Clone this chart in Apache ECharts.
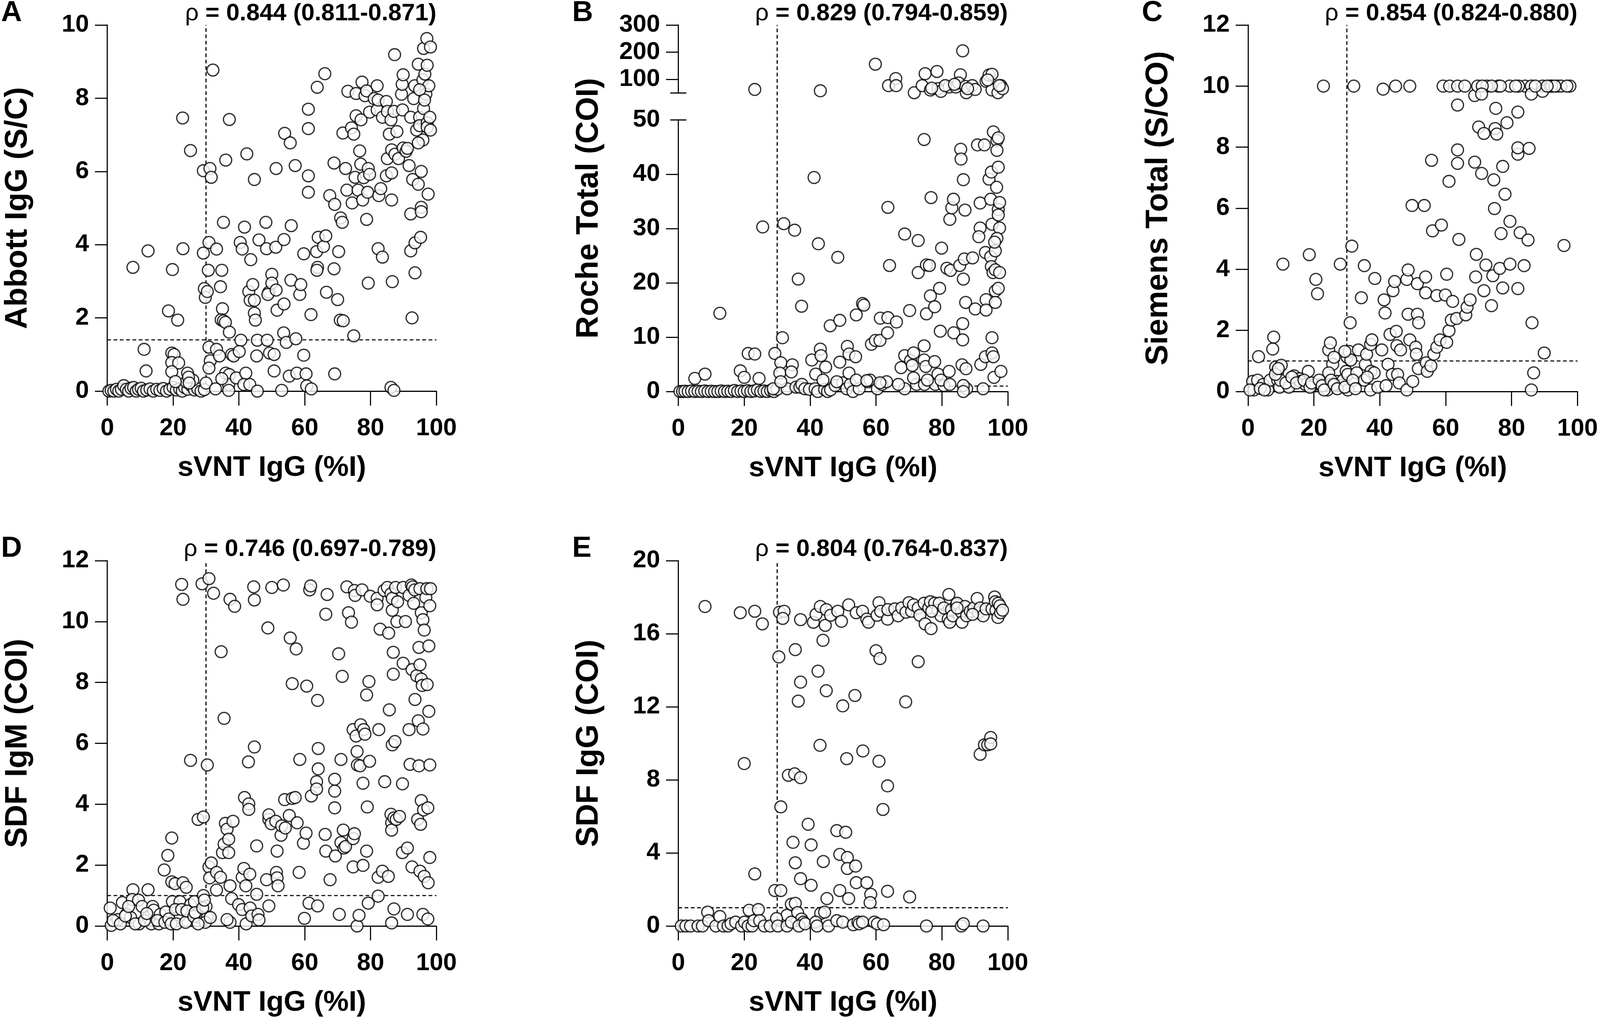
<!DOCTYPE html>
<html>
<head>
<meta charset="utf-8">
<script src="https://cdn.jsdelivr.net/npm/echarts@6/dist/echarts.min.js"></script>
<style>
  html, body { margin: 0; padding: 0; background: #fff; overflow: hidden; }
  #main { width: 4550px; height: 2626px; }
</style>
</head>
<body>
<div id="main"></div>
<script>
// ---- text ----
const xTitle = 'sVNT IgG (%I)';
const panelLetters = ['A', 'B', 'C', 'D', 'E'];
const yTitles = ['Abbott IgG (S/C)', 'Roche Total (COI)', 'Siemens Total (S/CO)', 'SDF IgM (COI)', 'SDF IgG (COI)'];
const rhoTexts = ['0.844 (0.811-0.871)', '0.829 (0.794-0.859)', '0.854 (0.824-0.880)', '0.746 (0.697-0.789)', '0.804 (0.764-0.837)'];

// ---- cut-offs (dashed lines) ----
const svntCutoff = 30;
const assayCutoffs = [1.4, 1, 1, 1, 1];

// ---- A: Abbott IgG (S/C) vs sVNT ----
const abbottPts = [
  [0.5,0],[1.2,0.02],[2,0],[2.8,0.05],[3.5,0],[4.3,0.05],[5,0.15],[5.8,0.05],[6.5,0],[7.2,0.08],[8,0.1],[8.8,0],
  [9.5,0.05],[10.3,0.08],[11,0],[12,0.03],[13,0.06],[14,0],[15,0.05],[16,0.02],[17,0.07],[18,0],[19,0.05],[20,0.1],
  [21,0.03],[22,0.06],[22.8,0],[23.5,0.1],[24.5,0.05],[25.5,0.15],[26.5,0.03],[27.5,0.06],[28.5,0],[29.5,0.04],[26,0.3],[24,0.25],
  [7.8,3.38],[12.4,3.83],[11.2,1.14],[11.8,0.55],[22.9,7.46],[25.3,6.57],[19.8,3.32],[18.6,2.19],[21.4,1.94],[23,3.89],
  [19.6,1.04],[20.3,1.0],[19.6,0.78],[21.7,0.77],[19.6,0.53],[20.7,0.26],[24.4,0.49],[24.7,0.38],[24.9,0.22],
  [29.2,6.02],[31.2,6.08],[31.6,5.84],[32.1,8.77],[29.2,3.77],[30.9,4.06],[33.2,3.88],[30.7,3.3],[29.5,2.8],[29.8,2.56],
  [30.4,2.72],[30.9,1.2],[31.3,0.83],[30.9,0.63],[30,0.22],[32.9,0.06],[33.2,1.14],[34.1,0.96],[34.8,3.3],[34.4,2.85],
  [35.3,4.61],[36,6.31],[37.1,7.42],[35,2.25],[34.6,1.95],[35.3,1.92],[35.9,1.88],[37.1,1.61],[37.8,1.0],[38.4,0.96],
  [36,0.49],[37.1,0.45],[36.9,0.18],[36.9,0.02],[39.2,0.36],[34.8,0.34],[40.6,1.39],[40.1,1.08],[40.4,4.06],[41,3.88],[41.7,4.48],
  [42.4,6.48],[43.6,3.59],[43,2.72],[43.4,2.48],[44.2,2.91],[44.7,2.48],[44.7,2.13],[45,1.94],[44.7,5.78],[42.1,0.49],
  [41.5,0.18],[43.3,0.18],[45.6,0],[45.4,0.96],[45.6,1.39],[46.1,4.13],[48.2,4.61],[48.4,3.89],[48.6,1.39],[49.1,2.7],
  [48.8,2.64],[49.3,1.04],[50,3.19],[50,2.95],[50.7,1.0],[51.3,6.08],[51.2,3.93],[51.3,2.76],[51.6,2.21],[50.7,0.55],
  [53,0.02],[53.7,2.38],[53.7,4.14],[53.9,7.04],[53.6,1.59],[54.4,1.33],[55.3,0.41],[55.6,6.78],[55.9,4.52],[55.8,3.03],
  [57.1,6.16],[57.3,1.43],[57.6,0.49],[58.5,2.64],[58.8,2.91],[59.7,3.75],[59.7,0.98],[60.4,0.47],[60.6,0.14],[61.1,7.7],
  [61.1,7.17],[61.1,5.88],[61.1,5.43],[61.9,2.09],[62,0.06],[63.8,8.3],[63.6,3.81],[63.9,3.38],[63.7,3.3],[64.1,4.2],
  [65.7,3.95],[66.4,4.24],[66.1,8.67],[66.6,2.7],[67.6,5.34],[68.9,3.34],[68.9,6.23],[69.1,5.1],[69.1,0.47],[70,2.5],
  [70.3,3.81],[70.9,4.73],[71.4,4.61],[70.8,1.94],[71.7,1.92],[71.6,7.05],[72.4,6.08],[72.8,5.49],[73.1,8.19],[74.2,7.19],
  [74.9,7.02],[74.9,1.51],[74.4,5.14],[75.3,5.84],[75.6,8.13],[75.6,7.52],[76.2,5.49],[76.7,6.56],[77,6.2],[77.1,7.41],
  [77.4,8.44],[77.6,5.22],[77.9,5.83],[78.3,8.07],[78.8,8.2],[78.8,4.69],[79.1,5.43],[79.3,2.95],[79.3,6.08],[79.7,5.92],
  [79.7,7.62],[81.1,7.99],[82,8.34],[82,7.68],[82.3,7.95],[82.3,3.89],[82.5,5.34],[83.1,5.53],[83.6,3.66],[83.6,7.48],
  [84.8,7.91],[85.1,7.64],[84.8,5.88],[85.1,6.35],[85.7,7.02],[86.2,7.41],[86.4,6.59],[86.4,5.96],[86.4,5.22],[86.6,2.99],
  [86.2,0.1],[87.1,0.02],[87.3,9.19],[87.4,6.47],[88,7.09],[88.5,6.35],[87.1,7.64],[89.4,8.11],[89.6,8.38],[89.9,8.64],
  [89.7,7.68],[89.9,6.64],[90.8,6.55],[91.2,6.63],[91.7,6.16],[92.2,7.48],[92.2,4.84],[92.2,3.83],[92.6,2.0],[92.8,5.78],
  [93.1,7.99],[93.4,8.34],[93.5,4.05],[94,7.13],[94.5,5.65],[94.5,8.93],[94.9,7.48],[94.9,7.25],[95.2,4.2],[95.4,5.02],
  [95.4,4.9],[95.4,6.0],[95.9,6.86],[95.9,8.5],[96.1,7.72],[96.1,9.36],[93.5,3.23],[96.5,8.66],[96.8,8.11],[97.1,9.63],
  [97.2,8.9],[97.2,7.33],[97.2,7.21],[97.7,8.34],[98,7.48],[97.5,5.38],[98.2,9.4],[98.2,7.13],[94.9,8.23],[94.5,6.78],[96.4,7.95]
];

// ---- B: Roche Total (COI) vs sVNT (broken axis: 0-50 and 50-300) ----
const rochePts = [
  [0.5,0],[1.3,0],[2,0.05],[3,0],[4,0.1],[5,0],[6,0.05],[7,0],[8,0.1],[9,0],[10,0.05],[11,0],[12,0],[13,0.1],[14,0],
  [15,0.05],[16,0],[17,0.2],[18,0],[19,0.1],[20,0],[21,0.15],[22,0],[23,0.1],[24,0.3],[25,0],[26,0.1],[27,0],[28,0.2],
  [29,0],[30,0.4],[28.8,0.5],[33,0.5],[35.7,0.8],[36.9,0.8],[37.5,1.3],[38.4,0.5],[39.8,0.4],[41.5,0.5],[42.3,0],[44.4,0.4],
  [45.3,0],[46.2,0.3],[47.6,1.1],[49.9,1.6],[51.1,0.5],[52.2,1.3],[53,0],[54.9,0.5],[57.5,1.8],[58.2,2.1],[60.4,0.5],
  [61.8,1.3],[63.2,1.8],[68.7,0.5],[72.3,1.3],[74.7,1.3],[78,1.3],[80.6,1.1],[87.5,0.5],
  [12.6,14.4],[5,2.4],[8.1,3.2],[18.8,3.8],[20,2.6],[21.2,7],[23.2,6.9],[24.5,2.4],[25.6,30.3],[29.3,7],[31.6,9.9],
  [32,30.9],[35.3,29.7],[36.4,20.7],[37.4,15.7],[31.1,5.3],[30.8,3.4],[34.6,4.9],[34.3,3.6],[31.1,1.8],[41.2,39.4],
  [42.5,27.2],[40.5,5.8],[43.1,7.8],[43.3,6.6],[44.7,4.5],[41.7,3.2],[43.9,2.1],[46.1,12.1],[48.4,24.7],[49,13.1],[49,5.4],
  [48.1,1.8],[51.3,8.3],[51.8,6.9],[53.8,6.4],[54,14.1],[55.9,16.2],[56.3,15.9],[51.8,3.4],[54,2.1],[57.2,2],[58.6,8.7],
  [59.8,9.4],[61.2,9.4],[61.3,13.5],[63.6,13.6],[63.5,10.8],[63.6,33.9],[64.1,23.2],[66.2,12.8],[61.2,1.6],[66.8,1.3],
  [68.7,29],[72.8,27.8],[70.2,14.9],[67.6,4.4],[68.7,6.6],[70.5,5.7],[71,4.8],[71.4,7.1],[71.4,2.5],[72.8,21.9],[74.6,46.4],
  [74.6,8.4],[75.3,23.3],[76.2,23.2],[75.3,14.3],[76.5,17.6],[77.8,15.6],[76.7,35.7],[79.3,19],[79.9,26.4],[79.5,11.1],
  [74.6,5.8],[75.1,4.6],[75.6,2.1],[77.8,5.5],[78.8,3.2],[79.7,2.1],[81.5,22.7],[82.6,22.3],[82.4,31.7],[83,33.8],[83.5,35.4],
  [83.6,10.8],[82.2,3.7],[82.4,1.3],[85.7,44.6],[85.8,42.8],[86.5,39],[87,33.4],[85.4,23.2],[86.8,24.4],[86.5,20.7],
  [87.2,16.4],[86.3,12.5],[86.3,9.5],[86.1,4.9],[87.3,4.2],[86.5,1.1],[86.5,0],[89.3,24.6],[90.1,15.2],[90.8,45.4],
  [91.6,34.7],[91.6,30.1],[91.2,28.5],[91.8,5],[92.5,0.5],[92.9,45.4],[93.2,25.6],[93.4,16.9],[93.4,15],[93.2,6.4],
  [94.3,39.1],[95,40.4],[94.8,35.4],[95.2,30.8],[94.8,24.8],[95,23],[95.5,21.9],[95.2,7.1],[95.6,6.4],[95.2,9.9],
  [96.2,18.5],[96.2,16.4],[95.6,47.8],[96.7,46.2],[97.1,46.7],[96.7,44.4],[97.1,41.3],[96.6,37.6],[97.1,33.5],[97.5,34.8],
  [97.1,32.5],[97.5,30.1],[96.7,28.2],[96.2,25.9],[96.2,22.4],[97.5,21.9],[95.8,2.6],[97.9,3.7],[97.1,19],[96,27.5],
  [23.2,63],[43.1,58],[59.8,156],[63.8,77],[66,103],[66.1,77],[71.6,51],[74,77],[74.9,121],[76.5,61],[78.5,129],[78.8,66],
  [79.7,56],[82.2,72],[84.2,72],[85.6,117],[85.1,87],[86.3,205],[87.4,51],[87.2,74],[89.2,77],[90.1,63],[93.4,93],
  [94.3,116],[95.2,119],[95.2,61],[97,51],[97.9,77],[98.4,66],[76.9,68],[81,77],[83.8,82],[87.8,66],[97.4,77],[93.9,98]
];
const rocheBreak = 50;

// ---- C: Siemens Total (S/CO) vs sVNT ----
const siemensPts = [
  [3.2,1.14],[1.4,0.33],[1.8,0.05],[0.6,0.05],[2.9,0.37],[4.6,0.23],[6,0.05],[6.7,0.37],[7.8,1.78],[7.5,1.39],[8.4,0.8],
  [9,0.66],[10.1,0.86],[9,0.37],[9.6,0.14],[10.6,4.17],[9.8,0.37],[12.4,0.14],[14,0.51],[15.6,0.42],[15.9,0.33],[17.4,0.23],
  [18.3,0.66],[18.6,4.48],[20.6,3.67],[21.1,3.2],[20.2,0.23],[22,0.23],[22.9,10],[24.1,0.05],[23.4,0.19],[24.5,1.36],
  [25,1.59],[25.7,0.89],[26.1,1.12],[24.5,0.61],[27.1,0.33],[28,4.17],[28.2,0.19],[28.9,0.37],[29.8,0.66],[30.1,1.12],
  [30.3,0.05],[30.7,1.31],[31,2.25],[31.5,4.76],[32.1,10],[31.2,1.03],[30.3,0.56],[33,0.61],[33.5,1.36],[34.4,3.07],
  [35.3,4.12],[35.3,0.37],[35.6,0.89],[36,1.22],[37.2,1.54],[37.3,0.66],[37.2,0.05],[37.6,1.69],[38.3,0.61],[38.5,3.7],
  [39.4,0.14],[40.6,1.36],[41,9.9],[41.3,3.0],[41.6,2.57],[41.9,0.19],[42.5,0.89],[43.1,1.87],[43.8,0.56],[44,3.3],
  [44.5,3.6],[44.8,10],[45,1.97],[45.2,1.5],[45.4,0.56],[45.9,0.28],[46.3,1.36],[48.2,0.05],[48.2,3.67],[48.6,3.98],
  [49.1,1.69],[48.6,2.53],[49.1,10],[49.8,6.09],[50,0.33],[50.9,1.45],[51.1,1.22],[51.4,2.53],[51.8,2.25],[51.4,3.53],
  [51.7,0.75],[53.5,6.09],[53.9,3.75],[53.9,3.23],[54.1,0.94],[54.4,0.66],[55.5,0.84],[55.7,7.57],[56,5.26],[56.4,1.22],
  [57.3,1.45],[57.3,3.14],[58.3,1.69],[58.7,5.45],[59.2,10],[59.9,3.16],[60.3,1.61],[60.3,3.84],[61,1.99],[61,6.88],
  [61.2,10],[61.7,2.34],[62.1,2.95],[63.3,2.39],[63.6,10],[63.6,7.91],[63.6,7.47],[63.6,9.38],[64,4.98],[65.8,10],
  [66.1,2.51],[66.5,2.76],[67.4,3.0],[68.8,7.51],[68.8,9.69],[69.1,3.75],[69.3,4.49],[69.7,10],[70,8.66],[70.9,7.14],
  [71.6,8.45],[71.6,3.3],[72.2,4.14],[72.5,10],[73.9,2.81],[74.3,3.79],[74.6,6.93],[74.8,5.99],[75,8.61],[75.2,9.27],
  [75.5,8.43],[75.9,10],[76.4,4.03],[76.8,5.17],[77.3,3.39],[77.3,7.37],[78,6.46],[78.6,8.8],[79.4,10],[79.5,5.57],
  [79.5,4.17],[81.9,9.15],[81.9,7.77],[81.9,7.98],[81.9,3.37],[82.6,5.2],[83.8,4.12],[84.1,10],[85.3,7.96],[85,4.96],
  [86,10],[86,9.74],[86.2,2.25],[86,0.05],[86.7,0.61],[89.4,10],[89.4,9.83],[89.9,1.26],[91.7,10],[94,10],[95.9,4.78],
  [97.7,10],[95,10],[92.2,10],[87.2,10],[82.1,10],[81.2,10],[76.6,10],[73.9,10],[71.1,10],[70.9,9.74],[96.8,10],[93.1,10],
  [90.8,10],[3.7,0.1],[5,0.05],[8.3,0.56],[9.2,0.75],[11.5,0.28],[13.3,0.47],[14.7,0.28],[17,0.37],[18.8,0.14],[19.3,0.28],
  [21.6,0.37],[22.5,0.19],[23.1,0.05],[25.2,0.37],[26.1,0.23],[27.1,0.09],[29.4,0.14],[31.8,0.37],[32.6,0.09],[36.2,0.47],[29.4,1.31]
];

// ---- D: SDF IgM (COI) vs sVNT ----
const sdfIgmPts = [
  [0.9,0.59],[1.2,0.02],[3.2,0.21],[4.6,0.77],[5.8,0.38],[7.8,1.19],[7.6,0.87],[7.1,0.28],[9.5,0.85],[9.7,0.07],[10.6,0.64],
  [12.4,1.19],[12.4,0.28],[13.8,0.64],[14.1,0.52],[13.4,0.07],[15.7,0.07],[16.1,0.38],[17.3,1.84],[17.8,0.46],[18.4,2.32],
  [19.6,2.89],[19.6,1.45],[19.8,0.8],[20.6,1.39],[21.2,0.28],[22.1,0.8],[22.6,11.22],[23,10.73],[23,1.42],[24,1.27],
  [22.1,0.35],[25.3,5.44],[25.3,0.7],[26.5,0.8],[27.2,0.18],[27.6,3.5],[29.2,3.58],[28.8,11.24],[29.2,1.0],[28.1,0.28],
  [30,0.64],[30.4,5.29],[30.9,11.41],[30.4,0.28],[30.9,1.94],[31.6,2.07],[32.3,10.93],[31.1,1.58],[33.2,1.76],[33.2,1.18],
  [34.4,1.6],[34.6,9.01],[35,2.41],[35.5,2.69],[35.5,6.82],[35.9,3.37],[36.4,3.18],[36.9,2.85],[36.9,2.41],[37.3,10.73],
  [38.7,10.5],[37.3,1.32],[37.8,0.9],[38.2,3.44],[37.3,0.12],[36.4,0.21],[39.9,0.7],[41,0.54],[41,1.6],[41.5,1.89],
  [41.7,4.22],[42.1,1.32],[42.2,0.07],[42.9,5.39],[43,4.01],[43,3.83],[43.3,1.7],[43.4,0.59],[43.9,0.33],[44.5,11.14],
  [44.7,10.71],[44.7,5.88],[45.4,2.63],[45.4,1.04],[45.8,0.38],[46.1,0.2],[48.4,1.52],[48.8,9.79],[49.1,0.66],[49.1,3.5],
  [49.1,3.65],[49.8,3.36],[50,11.12],[51.2,3.44],[51.4,1.76],[51.6,2.46],[51.6,1.58],[51.9,1.32],[52.8,2.98],[53,3.29],
  [53.5,11.2],[53.9,4.15],[54.1,3.22],[55.3,3.63],[55.6,9.46],[56.2,7.96],[56.2,4.19],[57.1,4.22],[57.7,3.39],[57.4,9.1],
  [58.3,1.76],[58.5,5.47],[59.6,2.72],[59.9,0.25],[60.4,3.05],[60.6,7.88],[61.3,0.75],[61.5,11.04],[61.8,11.17],[62,4.27],
  [63.6,4.74],[63.6,4.5],[63.9,7.41],[64.1,5.83],[64.1,5.16],[63.9,0.66],[66.2,3.01],[66.4,2.46],[66.4,10.24],[66.8,10.89],
  [67.7,1.52],[69.1,4.82],[69.1,4.43],[69.1,3.88],[69.3,2.3],[70.3,8.94],[70.5,0.38],[71,5.47],[71,2.74],[71.4,8.2],
  [71.7,3.15],[71.9,2.56],[72.4,2.61],[72.8,11.14],[73.3,10.29],[74.2,9.98],[74.7,2.87],[74.7,1.94],[75.1,3.03],[75.1,11.02],
  [75.3,10.86],[75.9,0],[75.9,5.73],[74.7,6.45],[75.6,6.24],[76,5.29],[76.5,0.35],[76.8,5.26],[77,6.61],[77.4,11.04],
  [77.7,4.69],[77.7,1.99],[77.9,6.45],[78.3,6.3],[78.8,7.59],[78.8,2.46],[79,3.91],[79.3,0.75],[79.5,8.03],[79.7,5.41],
  [79.9,10.83],[82,10.76],[82,10.55],[82.3,0.98],[82.3,1.6],[82.5,6.45],[82.9,9.75],[83.6,1.8],[84.1,11.02],[84.3,4.74],
  [85.1,11.12],[85.4,1.63],[85.5,9.62],[85.7,7.1],[86.2,10.91],[86.4,0.1],[86.6,10.76],[86.2,3.67],[86.4,3.39],[86.4,3.15],
  [86.6,5.95],[86.6,10.37],[86.9,8.27],[86.9,8.99],[87.1,0.56],[87.4,6.06],[87.6,11.12],[87.1,3.55],[87.8,3.5],[88,10.0],
  [88.2,10.65],[88.8,3.6],[89.9,11.12],[89.9,8.63],[89.7,4.67],[89.7,2.41],[90.6,10.0],[91.2,2.56],[91.2,0.38],[91.7,6.45],
  [92,5.31],[91.7,10.86],[92.4,11.2],[92.6,8.42],[92.6,1.94],[92.8,11.14],[93.1,10.6],[93.4,11.04],[93.5,7.44],[94,8.22],
  [94.3,3.5],[94.5,6.74],[94.7,9.15],[94.7,5.26],[95,8.58],[95,1.8],[95,11.08],[95.2,3.34],[95.4,8.11],[95.4,10.29],
  [95.4,4.12],[95.7,7.9],[95.9,0.38],[95.9,10.06],[95.9,6.47],[96.1,3.81],[96.3,9.72],[96.3,1.63],[96.8,10.79],[97.1,11.08],
  [97.2,7.93],[97.4,3.88],[97.4,0.23],[97.5,1.42],[97.7,9.2],[97.7,7.05],[98,5.29],[98,10.52],[98,2.25],[98.2,11.08],
  [1.8,0.18],[4,0.07],[5.5,0.33],[6.5,0.64],[8.5,0.07],[11.3,0.18],[12,0.41],[15.2,0.18],[17.5,0.12],[18.7,0.23],[19.4,0.07],
  [20.7,0.54],[21,0.07],[22.6,0.54],[23.8,0.12],[24.2,0.49],[26.3,0.31],[26.7,0.44],[29,0.59],[29.5,0.85],[29.8,0.12],
  [27.6,0.07],[31.3,0.28]
];

// ---- E: SDF IgG (COI) vs sVNT ----
const sdfIggPts = [
  [8.1,17.49],[18.8,17.15],[23.2,17.23],[25.5,16.54],[30.7,17.18],[32.1,17.23],[31.7,16.84],[37.1,16.77],[30.5,14.73],
  [35.5,15.13],[41,16.63],[41.8,17.06],[43.1,17.49],[43.9,15.64],[44.6,16.46],[44.9,17.32],[46.2,17.01],[48.4,17.23],
  [49.5,16.68],[51.7,17.58],[54,17.15],[55.9,17.23],[57.2,16.8],[57.7,16.63],[60,15.07],[61.2,14.64],[60.3,17.01],
  [60.9,17.7],[61.4,17.23],[63.5,16.8],[63.6,17.32],[65.7,17.36],[66.7,16.98],[67.8,17.41],[69.1,17.18],[70,17.7],
  [70.8,17.23],[71.4,17.58],[72.8,14.47],[72.8,17.41],[73.3,17.01],[74.6,17.67],[74.9,16.54],[76,17.41],[76.5,17.75],
  [76.7,16.28],[77.8,17.67],[78.8,17.29],[79.2,17.67],[79.7,16.98],[80.6,17.41],[82.1,18.15],[81.9,16.8],[82.4,16.63],
  [82.9,17.32],[83.3,16.98],[84.4,17.58],[84.6,17.67],[85.9,17.18],[86.1,16.63],[87,17.49],[87.5,16.98],[88.6,17.23],
  [89.7,17.41],[90.7,17.93],[91.1,17.15],[91.6,17.41],[92.5,16.98],[93.4,17.36],[95.2,17.36],[96,18.01],[96.2,17.75],
  [96.4,17.29],[97,16.89],[97.1,17.67],[97.6,17.53],[97.8,17.15],[98.4,17.29],[89.3,17.06],[84.6,17.41],[76.9,17.23],
  [20,8.89],[23.2,2.85],[29.3,1.94],[31.1,1.94],[31.1,6.52],[33,0.59],[33.4,8.25],[35.3,8.33],[37.1,8.12],[34.8,4.58],
  [35.5,3.46],[34.3,1.19],[35.5,1.24],[36.2,0.73],[37.1,13.35],[36.4,12.31],[37.1,2.59],[37.4,0.38],[38,0.21],[39.4,5.57],
  [40.3,4.44],[40.3,2.23],[42.4,13.95],[43,9.89],[43.2,0.69],[44,3.53],[44.4,0.76],[44.9,12.88],[45.1,1.5],[48.1,5.22],
  [49,3.92],[49,1.94],[49.9,12.05],[50.8,5.13],[51.1,9.16],[51.3,3.75],[51.3,3.15],[51.7,1.5],[53.6,12.62],[53.8,3.28],
  [54,2.37],[56,9.58],[57.2,2.37],[58.4,1.73],[58.2,1.28],[60.9,9.02],[62.1,6.38],[63.5,7.67],[63.5,1.9],[69,12.27],
  [70.2,1.59],[91.6,9.4],[92.9,9.92],[93.9,9.92],[94.8,10.32],[94.8,9.97],
  [0.9,0],[2.3,0],[3.7,0],[6,0],[7.3,0],[8.9,0.76],[9.2,0.29],[11.4,0],[12.6,0.52],[13.7,0],[15.1,0],[16,0.12],[17.4,0.21],
  [19.2,0],[20.1,0.21],[21.2,0],[21.5,0.86],[22.4,0],[22.9,0.29],[24.3,0.9],[24.7,0.29],[26.1,0],[27.9,0],[29.8,0.41],
  [30.2,0],[33,0],[34.3,0.21],[36.6,0],[38.5,0.12],[41.7,0.21],[42.1,0],[45.6,0],[48.1,0.29],[49.9,0.21],[53.1,0.07],
  [54.5,0.21],[54.9,0.12],[55.9,0.21],[59.5,0.21],[60.4,0.12],[62.3,0.07],[75.3,0],[85.9,0],[86.5,0.12],[92.5,0]
];

const FONT = "'Liberation Sans', Arial, Helvetica, sans-serif";

// the layout below is designed for 4550x2626; stretch it to the real viewport
const W = 4550, H = 2626;
const vw = window.innerWidth || W, vh = window.innerHeight || H;
const kx = vw / W, ky = vh / H, kf = Math.sqrt(kx * ky);
const sx = v => v * kx, sy = v => v * ky, sf = v => v * kf;
const el = document.getElementById('main');
el.style.width = vw + 'px';
el.style.height = vh + 'px';

const chart = echarts.init(el);

// grids: 0 A, 1 B lower, 2 B upper, 3 C, 4 D, 5 E
const grids = [
  { left: 305, top: 64, width: 936, height: 937 },
  { left: 1929, top: 307, width: 937, height: 695 },
  { left: 1929, top: 64, width: 937, height: 174 },
  { left: 3549, top: 64, width: 937, height: 938 },
  { left: 305, top: 1435, width: 936, height: 935 },
  { left: 1929, top: 1435, width: 937, height: 935 }
].map(g => ({ left: sx(g.left), top: sy(g.top), width: sx(g.width), height: sy(g.height) }));

const yRanges = [
  { min: 0, max: 10, interval: 2 },
  { min: 0, max: 50, interval: 10, axisTick: { customValues: [0, 10, 20, 30, 40] } },
  { min: 50, max: 300, axisTick: { customValues: [100, 200, 300] }, axisLabel: { customValues: [100, 200, 300] } },
  { min: 0, max: 12, interval: 2 },
  { min: 0, max: 12, interval: 2 },
  { min: 0, max: 20, interval: 4 }
];
const seriesData = [
  abbottPts,
  rochePts.filter(p => p[1] <= rocheBreak),
  rochePts.filter(p => p[1] > rocheBreak),
  siemensPts, sdfIgmPts, sdfIggPts
];

const lineStyle = { color: '#000', width: sf(3) };
const labelStyle = { color: '#000', fontSize: sf(66), fontWeight: 'bold', fontFamily: FONT };

const xAxes = grids.map((g, i) => ({
  type: 'value', gridIndex: i, min: 0, max: 100, interval: 20, show: i !== 2,
  axisLine: { lineStyle: lineStyle },
  axisTick: { length: sy(37), lineStyle: lineStyle },
  axisLabel: Object.assign({ margin: sy(64) }, labelStyle),
  splitLine: { show: false }
}));
const yAxes = grids.map((g, i) => {
  const r = yRanges[i];
  return {
    type: 'value', gridIndex: i, min: r.min, max: r.max, interval: r.interval,
    axisLine: { lineStyle: lineStyle },
    axisTick: Object.assign({ length: sx(35), lineStyle: lineStyle }, r.axisTick || {}),
    axisLabel: Object.assign({ margin: sx(52) }, labelStyle, r.axisLabel || {}),
    splitLine: { show: false }
  };
});

chart.setOption({
  animation: false,
  backgroundColor: '#fff',
  grid: grids,
  xAxis: xAxes,
  yAxis: yAxes,
  series: seriesData.map((d, i) => ({
    type: 'scatter', xAxisIndex: i, yAxisIndex: i, data: d,
    symbol: 'circle', symbolSize: sf(32), clip: false, silent: true, z: 3,
    itemStyle: { color: '#fff', borderColor: '#000', borderWidth: sf(3.5) },
    emphasis: { disabled: true }
  }))
});

// overlays: dashed cut-off lines, titles, panel letters, rho
const panelGrids = [[0, 0], [1, 2], [3, 3], [4, 4], [5, 5]];
const panelTop = [10, 300, 12, 12, 20];
const graphics = [];
const dashed = (x1, y1, x2, y2) => ({
  type: 'line', z: 1, silent: true,
  shape: { x1, y1, x2, y2 },
  style: { stroke: '#000', lineWidth: sf(3), lineDash: [sf(10), sf(7)] }
});
const solid = (x1, y1, x2, y2) => ({
  type: 'line', z: 1, silent: true,
  shape: { x1, y1, x2, y2 },
  style: { stroke: '#000', lineWidth: sf(3) }
});
panelGrids.forEach(([gb, gt], i) => {
  const p0 = chart.convertToPixel({ gridIndex: gb }, [0, 0]);
  const p100 = chart.convertToPixel({ gridIndex: gb }, [100, 0]);
  const topY = chart.convertToPixel({ gridIndex: gt }, [0, panelTop[i]])[1];
  const vx = chart.convertToPixel({ gridIndex: gb }, [svntCutoff, 0])[0];
  const hy = chart.convertToPixel({ gridIndex: gb }, [0, assayCutoffs[i]])[1];
  graphics.push(dashed(vx, p0[1], vx, topY));
  graphics.push(dashed(p0[0], hy, p100[0], hy));
  // y title
  graphics.push({
    type: 'text', silent: true, x: p0[0] - sx(254), y: (p0[1] + topY) / 2, rotation: Math.PI / 2,
    style: { text: yTitles[i], font: 'bold ' + sf(84) + 'px ' + FONT, fill: '#000', align: 'center', verticalAlign: 'middle' }
  });
  // x title
  graphics.push({
    type: 'text', silent: true, x: (p0[0] + p100[0]) / 2, y: p0[1] + sy(197),
    style: { text: xTitle, font: 'bold ' + sf(77) + 'px ' + FONT, fill: '#000', align: 'center', verticalAlign: 'middle' }
  });
  // panel letter
  graphics.push({
    type: 'text', silent: true, x: p0[0] - sx(302), y: topY - sy(30),
    style: { text: panelLetters[i], font: 'bold ' + sf(78) + 'px ' + FONT, fill: '#000', align: 'left', verticalAlign: 'middle' }
  });
  // rho
  graphics.push({
    type: 'text', silent: true, x: p100[0], y: topY + sy(2),
    style: {
      text: '{r|\u03c1 }{b|= ' + rhoTexts[i] + '}',
      align: 'right', verticalAlign: 'bottom',
      rich: {
        r: { font: 'normal ' + sf(65) + 'px ' + FONT, fill: '#000' },
        b: { font: 'bold ' + sf(65) + 'px ' + FONT, fill: '#000' }
      }
    }
  });
});
// axis break marks for panel B
const brUp = chart.convertToPixel({ gridIndex: 2 }, [0, rocheBreak]);
const brLow = chart.convertToPixel({ gridIndex: 1 }, [0, rocheBreak]);
graphics.push(solid(brUp[0] - sx(23), brUp[1], brUp[0] + sx(23), brUp[1]));
graphics.push(solid(brLow[0] - sx(23), brLow[1], brLow[0] + sx(23), brLow[1]));

chart.setOption({ graphic: graphics });
</script>
</body>
</html>
